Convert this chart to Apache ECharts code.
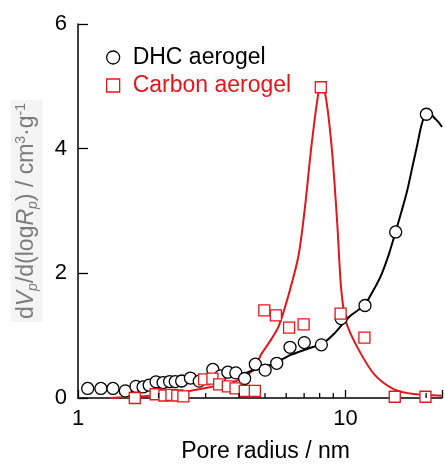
<!DOCTYPE html>
<html lang="en" style="height: 100%">
<head>
  <meta charset="utf-8">
</head>
<body style="height: 100%; margin: 0; background: #fff">
  <div id="container" style="width: 445px; height: 468px"></div>

  <script type="text/javascript" src="https://cdn.jsdelivr.net/npm/echarts@6/dist/echarts.min.js"></script>

  <script type="text/javascript">
    // measured points [pore radius nm, dVp/d(logRp)]
    var dhcPoints = [
      [1.087, 0.153], [1.218, 0.153], [1.351, 0.153], [1.503, 0.114], [1.647, 0.186],
      [1.75, 0.177], [1.845, 0.205], [1.958, 0.26], [2.08, 0.248], [2.2, 0.264],
      [2.31, 0.264], [2.44, 0.273], [2.63, 0.32], [2.84, 0.27], [3.19, 0.458],
      [3.41, 0.355], [3.63, 0.414], [3.89, 0.403], [4.195, 0.313], [4.6, 0.542],
      [5.005, 0.447], [5.53, 0.557], [6.2, 0.813], [7.01, 0.889], [8.12, 0.853],
      [9.63, 1.274], [11.82, 1.484], [15.39, 2.664], [20.05, 4.552]
    ];
    var carbonPoints = [
      [1.63, 0.0], [1.95, 0.06], [2.105, 0.04], [2.235, 0.05], [2.35, 0.04],
      [2.476, 0.025], [2.96, 0.3], [3.18, 0.31], [3.37, 0.22], [3.63, 0.185],
      [3.88, 0.153], [4.2, 0.115], [4.58, 0.115], [4.97, 1.405], [5.49, 1.326],
      [6.15, 1.13], [6.97, 1.18], [8.08, 4.985], [9.58, 1.353], [11.76, 0.968],
      [15.27, 0.02], [19.89, 0.02]
    ];
    // fitted curves
    var dhcCurve = [
      [1.45, 0.08], [1.7, 0.13], [2.0, 0.18], [2.5, 0.24], [3.0, 0.29], [3.5, 0.33],
      [4.0, 0.37], [4.5, 0.44], [5.0, 0.5], [5.5, 0.57], [5.85, 0.63], [6.27, 0.695],
      [7.05, 0.774], [7.68, 0.826], [8.12, 0.855], [9.1, 1.04], [9.9, 1.22], [10.5, 1.33],
      [11.75, 1.49], [12.6, 1.7], [13.55, 1.96], [14.5, 2.3], [15.39, 2.67], [16.2, 3.0],
      [17.0, 3.33], [17.8, 3.72], [18.53, 4.06], [19.1, 4.33], [19.62, 4.5], [20.17, 4.59],
      [20.8, 4.57], [21.4, 4.5], [22.2, 4.43], [22.93, 4.35]
    ];
    var carbonCurve = [
      [1.32, 0.0], [1.6, 0.02], [2.0, 0.05], [2.5, 0.1], [3.0, 0.16], [3.5, 0.22],
      [3.93, 0.28], [4.41, 0.41], [4.6, 0.52], [4.87, 0.72], [5.2, 0.9], [5.61, 1.14],
      [6.11, 1.64], [6.66, 2.27], [7.05, 3.06], [7.44, 4.01], [7.9, 4.87], [8.08, 4.98],
      [8.4, 4.87], [8.88, 4.01], [9.31, 2.8], [9.63, 1.75], [10.05, 1.22], [11.11, 0.8],
      [12.8, 0.38], [15.18, 0.14], [18.02, 0.063], [22.9, 0.036]
    ];
    var minorTicks = [2, 3, 4, 5, 6, 7, 8, 9, 20];
    var xMajorLabels = [1, 10];
    var yTicks = [0, 2, 4, 6];

    var RED = '#e3161b';
    var GREY = '#7b7b7b';
    var FONT = '"Liberation Sans", Arial, sans-serif';

    var dom = document.getElementById('container');
    var myChart = echarts.init(dom, null, { renderer: 'canvas' });

    var option = {
      backgroundColor: '#fff',
      animation: false,
      textStyle: { fontFamily: FONT },
      grid: { left: 78, right: 0, top: 24, bottom: 64, containLabel: false },
      legend: {
        orient: 'vertical',
        left: 101,
        top: 41,
        itemWidth: 13,
        itemHeight: 13,
        itemGap: 5,
        selectedMode: false,
        textStyle: { fontSize: 23, fontFamily: FONT, padding: [0, 0, 0, 8] },
        data: [
          { name: 'DHC aerogel', icon: 'circle', textStyle: { color: '#000' },
            itemStyle: { color: '#fff', borderColor: '#000', borderWidth: 1.3 } },
          { name: 'Carbon aerogel', icon: 'rect', textStyle: { color: RED },
            itemStyle: { color: '#fff', borderColor: RED, borderWidth: 1.3 } }
        ]
      },
      xAxis: {
        type: 'log',
        logBase: 10,
        min: 1,
        max: 22.93,
        name: 'Pore radius / nm',
        nameLocation: 'middle',
        nameGap: 42,
        nameTextStyle: { fontSize: 23, color: '#000', fontFamily: FONT, padding: [0, 0, 0, 11] },
        axisLine: { lineStyle: { color: '#000', width: 1.5 } },
        axisTick: { inside: true, length: 8, lineStyle: { color: '#000', width: 1.3 } },
        axisLabel: {
          fontSize: 22, color: '#000', margin: 10,
          formatter: function (v) {
            return xMajorLabels.indexOf(Math.round(v)) >= 0 ? String(Math.round(v)) : '';
          }
        },
        splitLine: { show: false }
      },
      yAxis: {
        type: 'value',
        min: yTicks[0],
        max: yTicks[yTicks.length - 1],
        interval: 2,
        name: '{t|d}{i|V}{s|p}{t|/d(log}{i|R}{s|p}{t|) / cm}{u|3}{t|·g}{u|-1}',
        nameLocation: 'middle',
        nameRotate: 90,
        nameGap: 35,
        nameTextStyle: {
          color: GREY,
          backgroundColor: '#f4f4f4',
          padding: [3, 3],
          rich: {
            t: { fontSize: 23, color: GREY, lineHeight: 26, verticalAlign: 'middle', fontFamily: FONT },
            i: { fontSize: 23, color: GREY, lineHeight: 26, fontStyle: 'italic', verticalAlign: 'middle', fontFamily: FONT },
            s: { fontSize: 14, color: GREY, lineHeight: 26, fontStyle: 'italic', verticalAlign: 'bottom', fontFamily: FONT },
            u: { fontSize: 14, color: GREY, lineHeight: 26, verticalAlign: 'top', fontFamily: FONT }
          }
        },
        axisLine: { show: true, lineStyle: { color: '#000', width: 1.5 } },
        axisTick: { inside: true, length: 10, lineStyle: { color: '#000', width: 1.3 } },
        axisLabel: { fontSize: 22, color: '#000', margin: 11 },
        splitLine: { show: false }
      },
      series: [
        {
          name: 'Carbon fit',
          type: 'line',
          data: carbonCurve,
          smooth: 0.3,
          showSymbol: false,
          symbol: 'none',
          lineStyle: { color: RED, width: 2 },
          z: 1
        },
        {
          name: 'DHC fit',
          type: 'line',
          data: dhcCurve,
          smooth: 0.3,
          showSymbol: false,
          symbol: 'none',
          lineStyle: { color: '#000', width: 2 },
          z: 1
        },
        {
          name: 'minor ticks',
          type: 'custom',
          silent: true,
          clip: false,
          z: 5,
          data: minorTicks.map(function (v) { return [v, 0]; }),
          renderItem: function (params, api) {
            var p = api.coord([api.value(0), api.value(1)]);
            return {
              type: 'line',
              shape: { x1: p[0], y1: p[1], x2: p[0], y2: p[1] - 5 },
              style: { stroke: '#000', lineWidth: 1.3 }
            };
          }
        },
        {
          name: 'DHC aerogel',
          type: 'scatter',
          data: dhcPoints,
          symbol: 'circle',
          symbolSize: 12,
          itemStyle: { color: '#fff', borderColor: '#000', borderWidth: 1.3, opacity: 1 },
          z: 3
        },
        {
          name: 'Carbon aerogel',
          type: 'scatter',
          data: carbonPoints,
          symbol: 'rect',
          symbolSize: 11,
          itemStyle: { color: '#fff', borderColor: RED, borderWidth: 1.3, opacity: 1 },
          z: 4
        }
      ]
    };

    myChart.setOption(option);
    window.addEventListener('resize', myChart.resize);
  </script>
</body>
</html>
